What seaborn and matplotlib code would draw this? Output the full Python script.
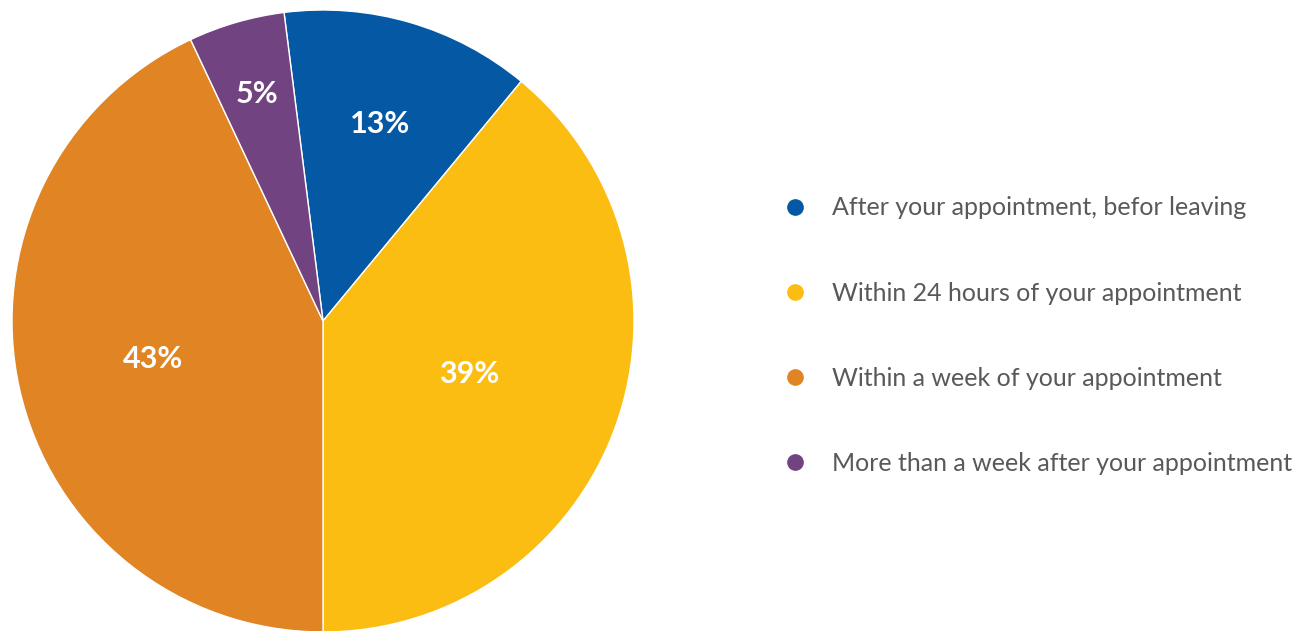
import numpy as np
import matplotlib.pyplot as plt
import seaborn as sns
from matplotlib.lines import Line2D

# data
labels = ['After your appointment, befor leaving',
          'Within 24 hours of your appointment',
          'Within a week of your appointment',
          'More than a week after your appointment']
values = [13, 39, 43, 5]
colors = ['#0558A3', '#FCBD12', '#E08424', '#724381']
# radial position of the percentage label in each slice
label_radius = [0.66, 0.50, 0.56, 0.76]

sns.set_theme(style='white')
plt.rcParams['font.family'] = ['Lato', 'DejaVu Sans']

fig = plt.figure(figsize=(13, 6.31), dpi=100)
ax = fig.add_axes([12 / 1300, -1 / 631, 622 / 1300, 622 / 631])

start = 90 + (sum(values[:2]) / 100 * 360 - 180)
wedges, _ = ax.pie(values, colors=colors, startangle=start, counterclock=False,
                   wedgeprops=dict(edgecolor='white', linewidth=1))
ax.set_xlim(-1, 1)
ax.set_ylim(-1, 1)
ax.set_aspect('equal')

# percentage labels
for w, v, r in zip(wedges, values, label_radius):
    mid = np.deg2rad((w.theta1 + w.theta2) / 2)
    ax.text(r * np.cos(mid), r * np.sin(mid), f'{v}%', ha='center', va='center',
            color='white', fontsize=22, fontweight='bold')

handles = [Line2D([], [], marker='o', linestyle='', markersize=11,
                  markerfacecolor=c, markeredgecolor=c) for c in colors]
fig.legend(handles, labels, loc='center left', bbox_to_anchor=(782 / 1300, 0.468),
           frameon=False, fontsize=18, labelcolor='#595959', handlelength=1,
           handletextpad=1.02, labelspacing=2.49, borderpad=0, borderaxespad=0)

fig.savefig('out.png', dpi=100)
